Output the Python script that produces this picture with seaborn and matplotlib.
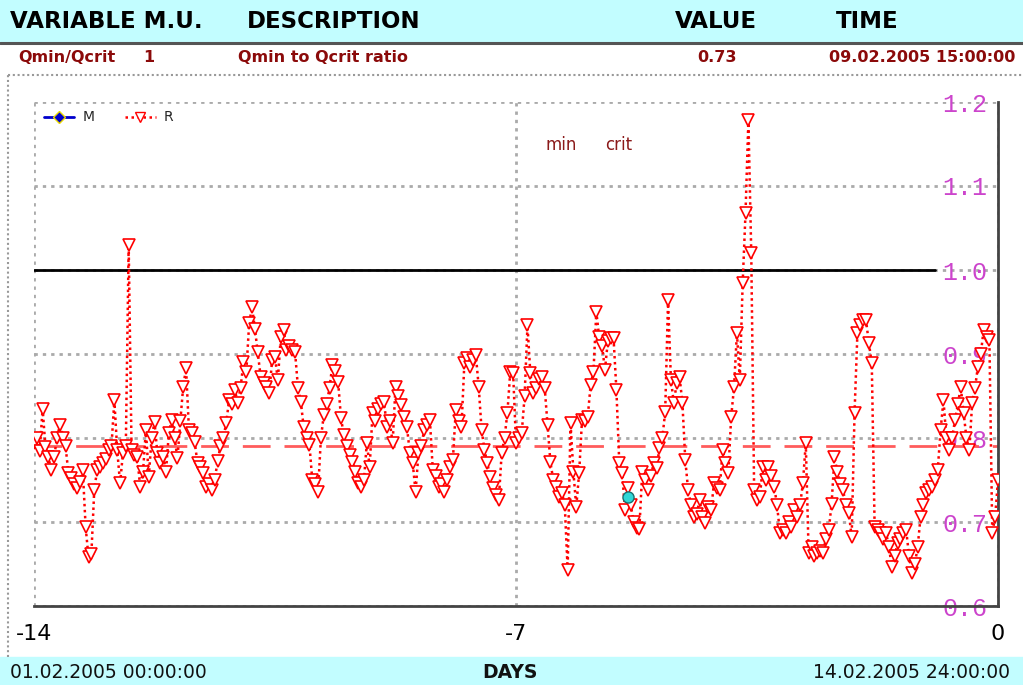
import numpy as np
import pandas as pd
import seaborn as sns
import matplotlib.pyplot as plt
from matplotlib.lines import Line2D
from matplotlib.patches import Rectangle

sns.set_style("white")
narrow = ['Liberation Sans Narrow', 'DejaVu Sans']
plt.rcParams['font.family'] = narrow

# hourly Qmin/Qcrit ratio, 01.02.2005 00:00 .. 14.02.2005 24:00
r_values = [
    0.794, 0.80, 0.785, 0.835, 0.789, 0.777, 0.762, 0.777, 0.80, 0.815, 0.80, 0.79,
    0.758, 0.752, 0.745, 0.740, 0.748, 0.762, 0.694, 0.658, 0.662, 0.738, 0.762, 0.765,
    0.77, 0.775, 0.786, 0.79, 0.845, 0.786, 0.746, 0.782, 0.79, 1.03, 0.786, 0.78,
    0.777, 0.742, 0.76, 0.81, 0.754, 0.80, 0.819, 0.782, 0.77, 0.777, 0.76, 0.806,
    0.821, 0.80, 0.776, 0.82, 0.861, 0.883, 0.81, 0.806, 0.795, 0.77, 0.765, 0.758,
    0.742, 0.745, 0.738, 0.75, 0.773, 0.79, 0.80, 0.818, 0.845, 0.84, 0.857, 0.842,
    0.86, 0.89, 0.879, 0.937, 0.956, 0.93, 0.902, 0.873, 0.865, 0.861, 0.853, 0.893,
    0.896, 0.869, 0.92, 0.929, 0.905, 0.91, 0.905, 0.902, 0.86, 0.843, 0.813, 0.80,
    0.792, 0.75, 0.745, 0.736, 0.80, 0.827, 0.84, 0.86, 0.887, 0.88, 0.867, 0.824,
    0.803, 0.79, 0.78, 0.771, 0.76, 0.746, 0.742, 0.75, 0.794, 0.766, 0.83, 0.82,
    0.835, 0.84, 0.843, 0.813, 0.82, 0.794, 0.861, 0.85, 0.839, 0.825, 0.813, 0.782,
    0.77, 0.736, 0.782, 0.79, 0.81, 0.815, 0.821, 0.762, 0.755, 0.742, 0.745, 0.736,
    0.75, 0.766, 0.774, 0.833, 0.82, 0.813, 0.889, 0.895, 0.885, 0.893, 0.899, 0.861,
    0.81, 0.786, 0.77, 0.754, 0.74, 0.732, 0.726, 0.782, 0.80, 0.83, 0.879, 0.877,
    0.794, 0.80, 0.806, 0.85, 0.934, 0.877, 0.853, 0.86, 0.87, 0.873, 0.86, 0.815,
    0.771, 0.75, 0.742, 0.73, 0.735, 0.72, 0.643, 0.818, 0.76, 0.718, 0.758, 0.821,
    0.82, 0.825, 0.863, 0.879, 0.95, 0.92, 0.91, 0.881, 0.915, 0.919, 0.919, 0.857,
    0.77, 0.758, 0.714, 0.74, 0.72, 0.70, 0.693, 0.692, 0.76, 0.75, 0.738, 0.755,
    0.77, 0.764, 0.788, 0.80, 0.831, 0.964, 0.869, 0.842, 0.865, 0.873, 0.842, 0.774,
    0.738, 0.72, 0.706, 0.71, 0.726, 0.706, 0.699, 0.718, 0.714, 0.746, 0.74, 0.738,
    0.786, 0.77, 0.758, 0.825, 0.861, 0.925, 0.869, 0.984, 1.068, 1.179, 1.02, 0.738,
    0.726, 0.73, 0.766, 0.75, 0.766, 0.755, 0.742, 0.72, 0.687, 0.69, 0.687, 0.70,
    0.694, 0.714, 0.706, 0.72, 0.746, 0.794, 0.663, 0.67, 0.66, 0.663, 0.665, 0.663,
    0.68, 0.69, 0.722, 0.777, 0.76, 0.745, 0.738, 0.72, 0.711, 0.682, 0.83, 0.925,
    0.935, 0.94, 0.94, 0.913, 0.889, 0.694, 0.69, 0.687, 0.68, 0.687, 0.67, 0.646,
    0.66, 0.675, 0.68, 0.687, 0.69, 0.66, 0.639, 0.65, 0.67, 0.706, 0.72, 0.735,
    0.738, 0.742, 0.75, 0.762, 0.81, 0.845, 0.80, 0.786, 0.80, 0.821, 0.84, 0.861,
    0.83, 0.80, 0.786, 0.842, 0.86, 0.885, 0.90, 0.929, 0.92, 0.917, 0.687, 0.706,
    0.75,
]
r_days = np.arange(len(r_values)) / 24 - 14

crit_level = 1.0
mean_level = 0.79
current_day = -5.375
current_value = 0.73

x_ticks = [-14, -7, 0]
x_labels = ['-14', '-7', '0']
y_ticks = [0.6, 0.7, 0.8, 0.9, 1.0, 1.1, 1.2]
y_labels = ['0.6', '0.7', '0.8', '0.9', '1.0', '1.1', '1.2']

header = [("VARIABLE M.U.", 10), ("DESCRIPTION", 247), ("VALUE", 675), ("TIME", 836)]
row = [("Qmin/Qcrit", 18), ("1", 143), ("Qmin to Qcrit ratio", 238),
       ("0.73", 697), ("09.02.2005 15:00:00", 829)]
footer_left = "01.02.2005 00:00:00"
footer_mid = "DAYS"
footer_right = "14.02.2005 24:00:00"

W, H = 1023, 685
fig = plt.figure(figsize=(W / 100, H / 100), dpi=100)
fig.patch.set_facecolor('white')

# header / footer bands
cyan = '#c2fdff'
fig.add_artist(Rectangle((0, 1 - 41 / H), 1, 41 / H, transform=fig.transFigure,
                         color=cyan, zorder=0))
fig.add_artist(Line2D([0, 1], [1 - 43 / H] * 2, transform=fig.transFigure,
                      color='#555555', lw=2.2))
fig.add_artist(Rectangle((0, 0), 1, 28 / H, transform=fig.transFigure,
                         color=cyan, zorder=0))
fig.add_artist(Line2D([8 / W, 1], [1 - 75 / H] * 2, transform=fig.transFigure,
                      color='#999999', lw=1.5, ls=(0, (1, 1.3))))
fig.add_artist(Line2D([8 / W] * 2, [28 / H, 1 - 75 / H], transform=fig.transFigure,
                      color='#999999', lw=1.5, ls=(0, (1, 1.3))))

for txt, x in header:
    fig.text(x / W, 1 - 21 / H, txt, ha='left', va='center', fontsize=16.5,
             fontweight='bold', color='black')
for txt, x in row:
    fig.text(x / W, 1 - 57 / H, txt, ha='left', va='center', fontsize=11.5,
             fontweight='bold', color='#8b0a0a')
fig.text(10 / W, 12 / H, footer_left, ha='left', va='center', fontsize=13.5, color='#111111')
fig.text(510 / W, 12 / H, footer_mid, ha='center', va='center', fontsize=13.5,
         fontweight='bold', color='#111111')
fig.text(1010 / W, 12 / H, footer_right, ha='right', va='center', fontsize=13.5, color='#111111')

ax = fig.add_axes([34 / W, 79 / H, 964 / W, 504 / H])
ax.set_xlim(-14, 0)
ax.set_ylim(0.6, 1.2)

ax.axhline(mean_level, color='#ff5c5c', lw=2, dashes=(10, 5), zorder=1)
ax.axhline(crit_level, xmax=0.935, color='black', lw=2, zorder=2)

df = pd.DataFrame({'day': r_days, 'value': r_values})
sns.lineplot(data=df, x='day', y='value', ax=ax, color='red', lw=1.8,
             linestyle=(0, (1, 1.4)), marker='v', markersize=8,
             markerfacecolor='white', markeredgecolor='red', markeredgewidth=1.2,
             zorder=3, sort=False, estimator=None)

ax.plot([current_day], [current_value], marker='o', markersize=8, color='#2fd6d6',
        markeredgecolor='#1a6f6f', zorder=5)

# legend
handles = [
    Line2D([], [], color='#0000cc', lw=2, marker='D', markersize=6,
           markerfacecolor='#0000cc', markeredgecolor='#e8d800'),
    Line2D([], [], color='red', lw=1.8, ls=(0, (1, 1.4)), marker='v', markersize=7,
           markerfacecolor='white', markeredgecolor='red'),
]
ax.legend(handles, ['M', 'R'], loc='upper left', bbox_to_anchor=(-0.003, 1.008),
          ncol=2, frameon=False, handlelength=2.2, columnspacing=2.2,
          handletextpad=0.6, prop={'family': 'DejaVu Sans', 'size': 10})

fig.text(561 / W, 1 - 145 / H, "min", ha='center', va='center', fontsize=12, color='#8b1a1a')
fig.text(619 / W, 1 - 145 / H, "crit", ha='center', va='center', fontsize=12, color='#8b1a1a')

# axes styling
ax.set_xticks(x_ticks)
ax.set_xticklabels(x_labels)
ax.set_yticks(y_ticks)
ax.set_yticklabels(y_labels)
ax.yaxis.tick_right()
ax.grid(True, color='#aaaaaa', lw=2, linestyle=(0, (1.2, 1.8)))
ax.set_axisbelow(True)
ax.tick_params(axis='y', length=0, pad=-40, labelcolor='#cc44cc', labelsize=18,
               labelfontfamily='Liberation Mono')
ax.tick_params(axis='x', direction='in', length=4, width=1, color='#555555',
               pad=13, labelsize=16, labelcolor='black')
for lab in ax.get_yticklabels():
    lab.set_zorder(4)
ax.set_xlabel('')
ax.set_ylabel('')
for s in ['left', 'top']:
    ax.spines[s].set_visible(False)
for s in ['right', 'bottom']:
    ax.spines[s].set_color('#444444')
    ax.spines[s].set_linewidth(2)

fig.savefig('out.png', dpi=100)
